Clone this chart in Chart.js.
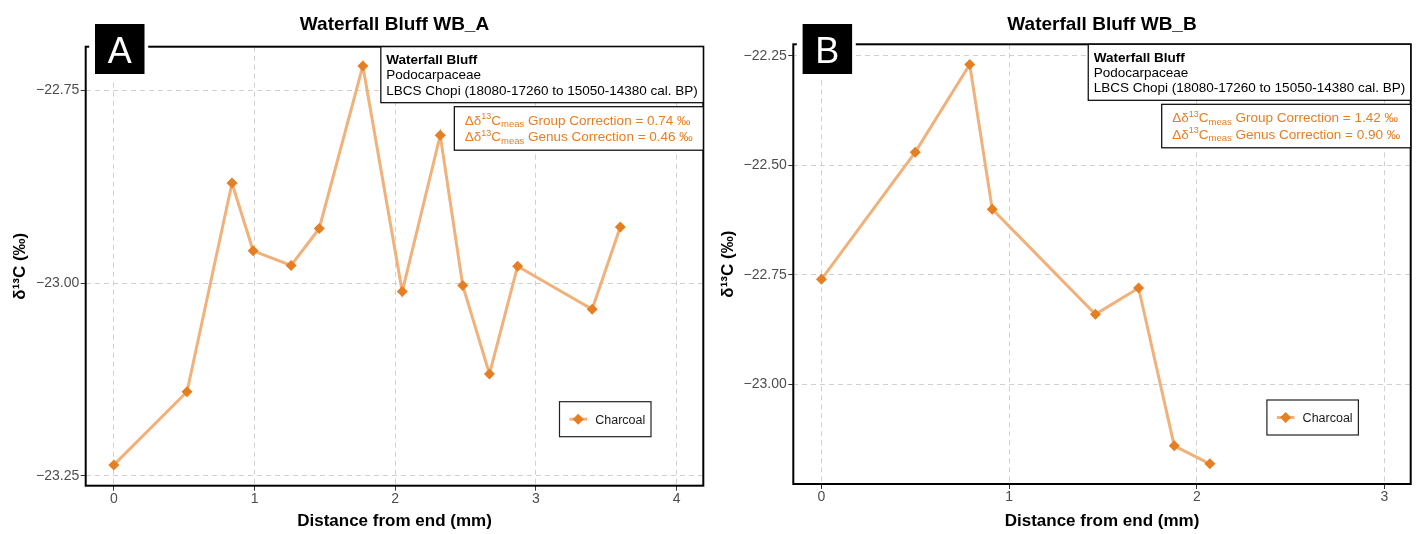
<!DOCTYPE html>
<html>
<head>
<meta charset="utf-8">
<script src="https://cdn.jsdelivr.net/npm/chart.js@4.4.1/dist/chart.umd.min.js"></script>
<style>
html, body { margin: 0; padding: 0; background: #fff; }
#wrap { position: relative; width: 1420px; height: 534px; }
.panel { position: absolute; top: 0; width: 710px; height: 534px; }
</style>
</head>
<body>
<div id="wrap">
  <div class="panel" style="left:0"><canvas id="chartA" width="710" height="534"></canvas></div>
  <div class="panel" style="left:710px"><canvas id="chartB" width="710" height="534"></canvas></div>
</div>
<script>
// WB_A: distance (mm) and d13C (permil)
const distA = [0, 0.52, 0.84, 0.99, 1.26, 1.46, 1.77, 2.05, 2.32, 2.48, 2.67, 2.87, 3.40, 3.60];
const d13cA = [-23.236, -23.141, -22.870, -22.958, -22.977, -22.929, -22.718, -23.011, -22.808, -23.003, -23.118, -22.978, -23.034, -22.927];
// WB_B
const distB = [0, 0.50, 0.79, 0.91, 1.46, 1.69, 1.88, 2.07];
const d13cB = [-22.760, -22.470, -22.270, -22.600, -22.840, -22.780, -23.140, -23.181];

const xTicksA = [0, 1, 2, 3, 4];
const yTicksA = [-23.25, -23.00, -22.75];
const xTicksB = [0, 1, 2, 3];
const yTicksB = [-23.00, -22.75, -22.50, -22.25];

const FONT = "'Liberation Sans', Arial, Helvetica, sans-serif";
const LINE = '#F0B27A';
const MARK = '#E67E22';

function fmtY(v) {
    return (v < 0 ? '\u2212' : '') + Math.abs(v).toFixed(2);
}

// draws a line made of normal / sup / sub pieces, returns its width
function richText(ctx, x, y, parts, draw) {
    let cx = x;
    for (const [t, k] of parts) {
        let dy = 0;
        if (k === 'sup') { ctx.font = '9px ' + FONT; dy = -5.5; }
        else if (k === 'sub') { ctx.font = '9.5px ' + FONT; dy = 2.5; }
        else { ctx.font = '13.5px ' + FONT; }
        if (draw) ctx.fillText(t, cx, y + dy);
        cx += ctx.measureText(t).width;
    }
    return cx - x;
}

function diamond(ctx, x, y, r) {
    ctx.beginPath();
    ctx.moveTo(x, y - r); ctx.lineTo(x + r, y); ctx.lineTo(x, y + r); ctx.lineTo(x - r, y);
    ctx.closePath(); ctx.fill();
}

const panelDecor = {
    id: 'panelDecor',
    afterDraw(chart, args, o) {
        const ctx = chart.ctx, ca = chart.chartArea;
        ctx.save();
        ctx.textBaseline = 'alphabetic';

        // frame
        ctx.strokeStyle = '#000'; ctx.lineWidth = 2;
        ctx.strokeRect(ca.left, ca.top, ca.right - ca.left, ca.bottom - ca.top);

        // title
        ctx.fillStyle = '#000';
        ctx.font = 'bold 19px ' + FONT;
        ctx.textAlign = 'center';
        ctx.fillText(o.title, (ca.left + ca.right) / 2, 30);
        ctx.textAlign = 'left';

        // site box
        const l1 = 'Waterfall Bluff', l2 = 'Podocarpaceae', l3 = 'LBCS Chopi (18080-17260 to 15050-14380 cal. BP)';
        ctx.font = '13.5px ' + FONT;
        let w = Math.max(ctx.measureText(l2).width, ctx.measureText(l3).width);
        ctx.font = 'bold 13.5px ' + FONT;
        w = Math.max(w, ctx.measureText(l1).width);
        const b1w = w + 11, b1x = ca.right - b1w, b1y = ca.top;
        ctx.fillStyle = '#fff'; ctx.fillRect(b1x, b1y, b1w, 56);
        ctx.strokeStyle = '#000'; ctx.lineWidth = 1.2; ctx.strokeRect(b1x, b1y, b1w, 56);
        ctx.fillStyle = '#000';
        ctx.fillText(l1, b1x + 5.5, b1y + 17.5);
        ctx.font = '13.5px ' + FONT;
        ctx.fillText(l2, b1x + 5.5, b1y + 32.5);
        ctx.fillText(l3, b1x + 5.5, b1y + 48);

        // correction box
        const rowG = [['\u0394\u03b4', 'n'], ['13', 'sup'], ['C', 'n'], ['meas', 'sub'], [' Group Correction = ' + o.group + ' \u2030', 'n']];
        const rowS = [['\u0394\u03b4', 'n'], ['13', 'sup'], ['C', 'n'], ['meas', 'sub'], [' Genus Correction = ' + o.genus + ' \u2030', 'n']];
        const tw = Math.max(richText(ctx, 0, 0, rowG, false), richText(ctx, 0, 0, rowS, false));
        const b2w = tw + 21, b2x = ca.right - b2w, b2y = b1y + 60;
        ctx.fillStyle = '#fff'; ctx.fillRect(b2x, b2y, b2w, 43.5);
        ctx.strokeStyle = '#000'; ctx.lineWidth = 1.2; ctx.strokeRect(b2x, b2y, b2w, 43.5);
        ctx.fillStyle = MARK;
        richText(ctx, b2x + 10.5, b2y + 18, rowG, true);
        richText(ctx, b2x + 10.5, b2y + 34.5, rowS, true);

        // legend
        const lw = 91.5, lh = 35;
        const lx = ca.right - 52.3 - lw, ly = ca.bottom - 49 - lh;
        ctx.fillStyle = '#fff'; ctx.fillRect(lx, ly, lw, lh);
        ctx.strokeStyle = '#222'; ctx.lineWidth = 1.2; ctx.strokeRect(lx, ly, lw, lh);
        ctx.strokeStyle = LINE; ctx.lineWidth = 3;
        ctx.beginPath(); ctx.moveTo(lx + 10, ly + lh / 2); ctx.lineTo(lx + 27.5, ly + lh / 2); ctx.stroke();
        ctx.fillStyle = MARK; diamond(ctx, lx + 18.7, ly + lh / 2, 5.5);
        ctx.fillStyle = '#1a1a1a'; ctx.font = '12.5px ' + FONT;
        ctx.fillText('Charcoal', lx + 35.7, ly + lh / 2 + 4.5);

        // panel letter
        ctx.fillStyle = '#fff';
        ctx.fillRect(ca.left + 3.5, 18, 59, 62);
        ctx.fillStyle = '#000';
        ctx.fillRect(ca.left + 9.3, 24, 49.5, 50);
        ctx.fillStyle = '#fff'; ctx.font = '36px ' + FONT; ctx.textAlign = 'center';
        ctx.fillText(o.label, ca.left + 9.3 + 24.75, 62.5);
        ctx.restore();
    }
};

function makeChart(id, xs, ys, xTicks, yTicks, box, deco) {
    const ctx = document.getElementById(id).getContext('2d');
    return new Chart(ctx, {
        type: 'line',
        data: {
            datasets: [{
                label: 'Charcoal',
                data: xs.map((x, i) => ({ x: x, y: ys[i] })),
                borderColor: LINE, borderWidth: 3, tension: 0, fill: false,
                pointStyle: 'rectRot', pointRadius: 5.5, pointHoverRadius: 5.5,
                pointBackgroundColor: MARK, pointBorderColor: MARK, pointBorderWidth: 0
            }]
        },
        options: {
            responsive: false, animation: false, devicePixelRatio: 1,
            layout: { padding: { left: 0, top: box.top, right: box.right, bottom: 0 } },
            plugins: { legend: { display: false }, tooltip: { enabled: false }, panelDecor: deco },
            scales: {
                x: {
                    type: 'linear', min: box.xmin, max: box.xmax,
                    afterBuildTicks: s => { s.ticks = xTicks.map(v => ({ value: v })); },
                    afterFit: s => { s.height = box.xh; },
                    ticks: { color: '#4d4d4d', font: { family: FONT, size: 14 }, padding: 0, callback: v => String(v) },
                    grid: { color: '#d0d0d0', lineWidth: 1, tickLength: 5, tickColor: '#333', tickWidth: 1 },
                    border: { display: false, dash: [5, 4] },
                    title: { display: true, text: 'Distance from end (mm)', color: '#000',
                             font: { family: FONT, size: 17, weight: 'bold' }, padding: { top: 0, bottom: 2 } }
                },
                y: {
                    type: 'linear', min: box.ymin, max: box.ymax,
                    afterBuildTicks: s => { s.ticks = yTicks.map(v => ({ value: v })); },
                    afterFit: s => { s.width = box.yw; },
                    ticks: { color: '#4d4d4d', font: { family: FONT, size: 14 }, padding: 1.5, callback: v => fmtY(v) },
                    grid: { color: '#d0d0d0', lineWidth: 1, tickLength: 5, tickColor: '#333', tickWidth: 1 },
                    border: { display: false, dash: [5, 4] },
                    title: { display: true, text: '\u03b4\u00b9\u00b3C (\u2030)', color: '#000',
                             font: { family: FONT, size: 17, weight: 'bold' }, padding: { top: box.ytp, bottom: 0 } }
                }
            }
        },
        plugins: [panelDecor]
    });
}

makeChart('chartA', distA, d13cA, xTicksA, yTicksA,
    { top: 46.7, right: 6.7, xh: 48.3, yw: 85.7, ytp: 10, xmin: -0.2, xmax: 4.19, ymin: -23.263, ymax: -22.693 },
    { label: 'A', title: 'Waterfall Bluff WB_A', group: '0.74', genus: '0.46' });
makeChart('chartB', distB, d13cB, xTicksB, yTicksB,
    { top: 44.3, right: 9.3, xh: 50, yw: 83.3, ytp: 8, xmin: -0.15, xmax: 3.14, ymin: -23.227, ymax: -22.224 },
    { label: 'B', title: 'Waterfall Bluff WB_B', group: '1.42', genus: '0.90' });
</script>
</body>
</html>
